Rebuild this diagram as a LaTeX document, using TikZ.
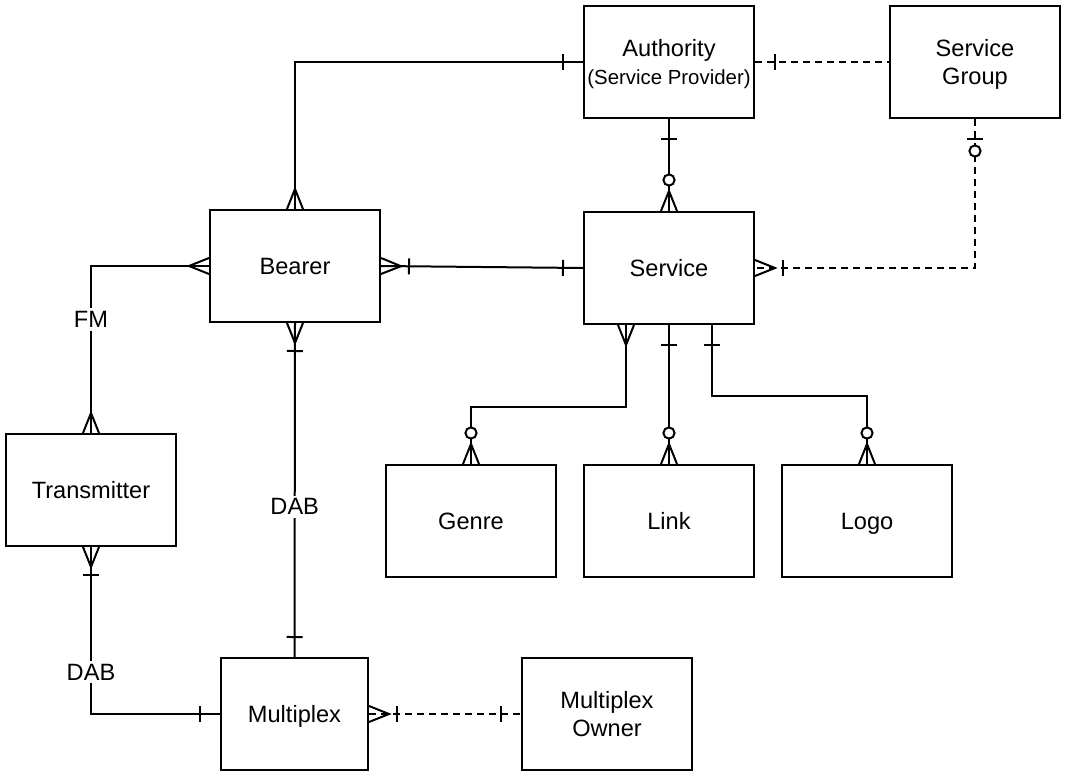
\documentclass[tikz,border=0pt]{standalone}
\usepackage{fontspec}
\setmainfont{Liberation Sans}
\usetikzlibrary{decorations.markings}

\tikzset{
    entity/.style={draw, line width=1pt, minimum width=85pt, minimum height=56pt,
        inner sep=1pt, text depth=0pt, align=center, font=\fontsize{11.8}{14}\selectfont},
    tag/.style={fill=white, inner sep=1.5pt, font=\fontsize{11.8}{14}\selectfont},
    optional/.style={dash pattern=on 3.5pt off 2.5pt},
    bar at/.style={postaction={decorate, decoration={markings,
        mark=at position #1 with {\draw[solid] (0pt,-4pt) -- (0pt,4pt);}}}},
    crow at/.style 2 args={postaction={decorate, decoration={markings,
        mark=at position #1 with {\draw[solid] (#2,-4pt) -- (0pt,0pt) -- (#2,4pt);}}}},
    ring at/.style={postaction={decorate, decoration={markings,
        mark=at position #1 with {\draw[solid, fill=white] (0pt,0pt) circle (2.8pt);}}}},
    one start/.style={bar at=10pt},
    one end/.style={bar at=-10pt},
    many start/.style={crow at={10pt}{-10pt}},
    many end/.style={crow at={-10pt}{10pt}},
    one many start/.style={many start, bar at=14pt},
    one many end/.style={many end, bar at=-14pt},
    zero many end/.style={many end, ring at=-15.5pt},
    zero one start/.style={bar at=10pt, ring at=16pt}
}

\begin{document}
\begin{tikzpicture}[x=0.5pt, y=-0.5pt, line width=1pt]
    \useasboundingbox (0,0) rectangle (1066,776);

    \node[entity] (auth) at (669,62) {Authority\\{\fontsize{10.2}{14}\selectfont (Service Provider)}};
    \node[entity] (sgroup) at (975,62) {Service\\Group};
    \node[entity] (bearer) at (295,266) {Bearer};
    \node[entity] (service) at (669,268) {Service};
    \node[entity] (trans) at (91,490) {Transmitter};
    \node[entity] (genre) at (471,521) {Genre};
    \node[entity] (link) at (669,521) {Link};
    \node[entity] (logo) at (867,521) {Logo};
    \node[entity, minimum width=73.5pt] (mplex) at (294.5,714) {Multiplex};
    \node[entity] (owner) at (607,714) {Multiplex\\Owner};

    \draw[one start, many end] (auth.west) -| (bearer.north);
    \draw[optional, one start] (auth.east) -- (sgroup.west);
    \draw[one start, zero many end] (auth.south) -- (service.north);
    \draw[optional, zero one start, one many end] (sgroup.south) |- (service.east);
    \draw[one many start, one end] (bearer.east) -- (service.west);
    \draw[many start, many end] (bearer.west) -| node[tag, pos=0.66] {FM} (trans.north);
    \draw[one many start, one end] (bearer.south) -- node[tag, pos=0.55] {DAB} (mplex.north);
    \draw[one many start, one end] (trans.south) |- node[tag, pos=0.375] {DAB} (mplex.west);
    \draw[optional, one many start, one end] (mplex.east) -- (owner.west);

    \draw[many start, zero many end] ([xshift=-21.5pt]service.south) -- ++(0,82) -| (genre.north);
    \draw[one start, zero many end] (service.south) -- (link.north);
    \draw[one start, zero many end] ([xshift=21.5pt]service.south) -- ++(0,71) -| (logo.north);
\end{tikzpicture}
\end{document}
